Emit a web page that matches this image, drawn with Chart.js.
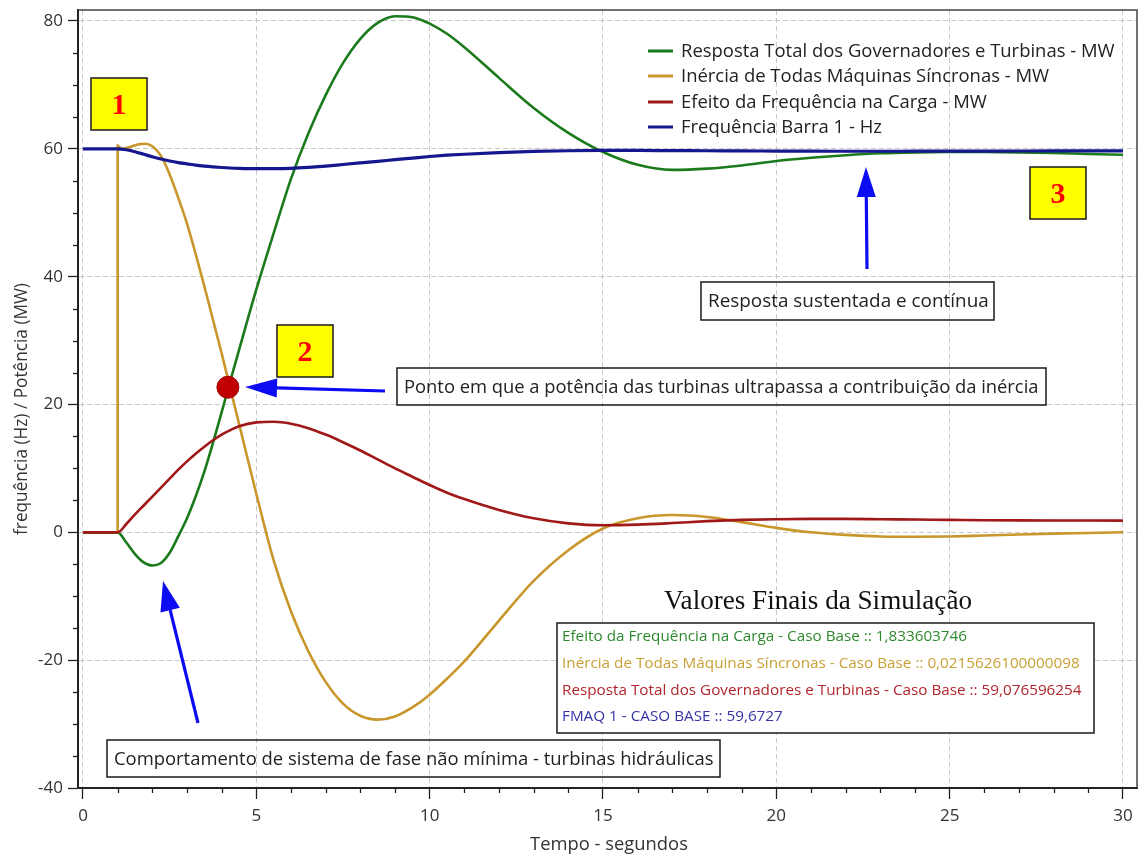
<!DOCTYPE html>
<html><head><meta charset="utf-8">
<script src="https://cdn.jsdelivr.net/npm/chart.js@4.4.0/dist/chart.umd.min.js"></script>
<style>html,body{margin:0;padding:0;background:#fff;}canvas{display:block;}</style>
</head><body>
<canvas id="c" width="1141" height="856"></canvas>
<script>
// ---- data ----
const tempo = [0,1,1.25,1.5,1.75,2,2.25,2.5,2.75,3,3.25,3.5,3.75,4,4.25,4.5,5,5.5,6,6.5,7,7.5,8,8.5,9,9.5,10,10.5,11,12,13,14,15,16,17,18,19,20,21,22,23,24,25,26,27,28,29,30];
const governadores = [0,0,-1.6,-3.4,-4.7,-5.2,-4.8,-3.2,-0.6,2.2,5.6,9.5,14,18.8,23.7,28.5,38,46.8,55.3,62.4,68.4,73.4,77.2,79.7,80.75,80.6,79.6,78.0,75.9,71.1,66.4,62.5,59.5,57.5,56.7,56.9,57.4,58.1,58.6,59.0,59.3,59.45,59.5,59.5,59.45,59.35,59.2,59.08];
const cargaFreq = [0,0,1.3,2.8,4.2,5.6,7.0,8.4,9.8,11.1,12.3,13.4,14.4,15.3,16.0,16.6,17.2,17.3,17.0,16.3,15.3,14.1,12.8,11.4,10.0,8.7,7.4,6.2,5.2,3.5,2.2,1.4,1.1,1.2,1.45,1.75,1.95,2.05,2.1,2.1,2.05,2.0,1.95,1.9,1.87,1.85,1.84,1.83];
const frequencia = [60,60,59.85,59.55,59.15,58.75,58.4,58.1,57.85,57.65,57.45,57.3,57.18,57.08,57.0,56.95,56.9,56.9,56.95,57.1,57.3,57.55,57.8,58.05,58.3,58.55,58.8,59.0,59.15,59.4,59.6,59.7,59.75,59.75,59.72,59.7,59.67,59.65,59.63,59.62,59.62,59.63,59.64,59.65,59.66,59.67,59.67,59.67];
const tempoInercia = [0,1,1,1.1,1.3,1.6,1.8,2,2.25,2.5,2.75,3,3.5,4,4.5,5,5.5,6,6.5,7,7.5,8,8.5,9,9.5,10,10.5,11,12,13,14,15,16,17,18,19,20,21,22,23,24,25,26,27,28,29,30];
const inercia = [0,0,60.5,60.0,60.2,60.7,60.8,60.4,58.9,56.0,52.3,48.3,38.5,28.0,17.0,6.0,-4.4,-12.4,-18.6,-23.4,-26.8,-28.7,-29.3,-28.8,-27.4,-25.4,-22.9,-20.2,-13.8,-7.6,-2.8,0.6,2.2,2.7,2.4,1.6,0.7,0.0,-0.4,-0.65,-0.7,-0.65,-0.5,-0.35,-0.2,-0.1,0.02];
const cruzamentoT = [4.18];
const cruzamentoV = [22.7];
const ticksX = [0,5,10,15,20,25,30];
const ticksY = [-40,-20,0,20,40,60,80];
const nomes = ['Resposta Total dos Governadores e Turbinas - MW','Inércia de Todas Máquinas Síncronas - MW','Efeito da Frequência na Carga - MW','Frequência Barra 1 - Hz'];
const cores = ['#1b7a1b','#c8962a','#a01818','#16168f'];
const valoresFinais = ['Efeito da Frequência na Carga - Caso Base :: 1,833603746','Inércia de Todas Máquinas Síncronas - Caso Base :: 0,0215626100000098','Resposta Total dos Governadores e Turbinas - Caso Base :: 59,076596254','FMAQ 1 - CASO BASE :: 59,6727'];
const coresValores = ['#2f8a2f','#c9a034','#b0262c','#3535a8'];

const SANS = '"Open Sans", "Noto Sans", sans-serif';
const SERIF = '"Liberation Serif", "DejaVu Serif", serif';

function fitSize(ctx, text, width, family, weight){
  ctx.font = (weight||'') + ' 100px ' + family;
  return 100*width/ctx.measureText(text).width;
}
function box(ctx,x1,y1,x2,y2,fill){
  if(fill){ctx.fillStyle=fill;ctx.fillRect(x1,y1,x2-x1,y2-y1);}
  ctx.strokeStyle='#1a1a1a';ctx.lineWidth=1.5;ctx.setLineDash([]);
  ctx.strokeRect(x1,y1,x2-x1,y2-y1);
}
function arrow(ctx,x1,y1,x2,y2,hl,hw){
  const a=Math.atan2(y2-y1,x2-x1);
  const bx=x2-hl*Math.cos(a), by=y2-hl*Math.sin(a);
  ctx.strokeStyle='#0c0cf2';ctx.fillStyle='#0c0cf2';ctx.lineWidth=3.2;ctx.setLineDash([]);
  ctx.beginPath();ctx.moveTo(x1,y1);ctx.lineTo(bx,by);ctx.stroke();
  ctx.beginPath();ctx.moveTo(x2,y2);
  ctx.lineTo(bx+hw/2*Math.sin(a),by-hw/2*Math.cos(a));
  ctx.lineTo(bx-hw/2*Math.sin(a),by+hw/2*Math.cos(a));
  ctx.closePath();ctx.fill();
}
function textBox(ctx,text,x1,y1,x2,y2,tw){
  box(ctx,x1,y1,x2,y2,null);
  const s=fitSize(ctx,text,tw,SANS);
  ctx.font=s+'px '+SANS;ctx.fillStyle='#222';ctx.textAlign='left';ctx.textBaseline='middle';
  ctx.fillText(text,x1+7,(y1+y2)/2+1);
}
function numBox(ctx,n,x1,y1,x2,y2){
  box(ctx,x1,y1,x2,y2,'#ffff00');
  ctx.font='bold 30px '+SERIF;ctx.fillStyle='#ff0000';ctx.textAlign='center';ctx.textBaseline='middle';
  ctx.fillText(n,(x1+x2)/2,(y1+y2)/2+2);
}

const overlay = {
  id:'overlay',
  afterDraw(chart){
    const ctx=chart.ctx, ca=chart.chartArea, sx=chart.scales.x, sy=chart.scales.y;
    ctx.save();
    ctx.strokeStyle='#444';ctx.lineWidth=1.5;ctx.setLineDash([]);
    ctx.beginPath();ctx.moveTo(ca.left,ca.top);ctx.lineTo(ca.right,ca.top);ctx.lineTo(ca.right,ca.bottom);ctx.stroke();
    ctx.strokeStyle='#222';ctx.lineWidth=1.3;
    for(let v=Math.ceil(sx.min);v<=sx.max;v++){ if(ticksX.includes(v)) continue;
      const p=Math.round(sx.getPixelForValue(v))+0.5; ctx.beginPath();ctx.moveTo(p,ca.bottom);ctx.lineTo(p,ca.bottom+5);ctx.stroke();}
    for(let v=-40;v<=sy.max;v+=5){ if(ticksY.includes(v)) continue;
      const p=Math.round(sy.getPixelForValue(v))+0.5; ctx.beginPath();ctx.moveTo(ca.left,p);ctx.lineTo(ca.left-5,p);ctx.stroke();}
    ctx.fillStyle='#333';ctx.textAlign='center';ctx.textBaseline='middle';ctx.font='17px '+SANS;
    ticksX.forEach(v=>ctx.fillText(String(v),sx.getPixelForValue(v),ca.bottom+28));
    let s=fitSize(ctx,'Tempo - segundos',158,SANS);
    ctx.font=s+'px '+SANS;ctx.fillText('Tempo - segundos',609,845);
    const yt='frequência (Hz) / Potência (MW)';
    s=fitSize(ctx,yt,252,SANS);
    ctx.translate(22,409);ctx.rotate(-Math.PI/2);ctx.font=s+'px '+SANS;ctx.fillText(yt,0,0);
    ctx.setTransform(1,0,0,1,0,0);
    s=fitSize(ctx,nomes[0],434,SANS);
    const rowsY=[51,76,102,127];
    nomes.forEach((n,i)=>{
      ctx.strokeStyle=cores[i];ctx.lineWidth=3;ctx.beginPath();ctx.moveTo(648,rowsY[i]);ctx.lineTo(673,rowsY[i]);ctx.stroke();
      ctx.fillStyle='#222';ctx.font=s+'px '+SANS;ctx.textAlign='left';ctx.textBaseline='middle';ctx.fillText(n,681,rowsY[i]+1);
    });
    numBox(ctx,'1',91,78,147,130);
    numBox(ctx,'2',277,325,333,377);
    numBox(ctx,'3',1030,167,1086,219);
    textBox(ctx,'Resposta sustentada e contínua',701,282,994,320,281);
    textBox(ctx,'Ponto em que a potência das turbinas ultrapassa a contribuição da inércia',397,368,1046,405,635);
    textBox(ctx,'Comportamento de sistema de fase não mínima - turbinas hidráulicas',107,740,720,777,600);
    arrow(ctx,198,723,163,581,30,20);
    arrow(ctx,385,391,245,387,32,19);
    arrow(ctx,867,269,866,167,30,19);
    ctx.fillStyle='#111';ctx.textAlign='center';ctx.textBaseline='middle';
    s=fitSize(ctx,'Valores Finais da Simulação',308,SERIF);
    ctx.font=s+'px '+SERIF;ctx.fillText('Valores Finais da Simulação',818,602);
    box(ctx,557,623,1094,733,'#ffffff');
    s=fitSize(ctx,valoresFinais[2],520,SANS);
    const vy=[637,664,691,717];
    valoresFinais.forEach((t,i)=>{ctx.fillStyle=coresValores[i];ctx.font=s+'px '+SANS;ctx.textAlign='left';ctx.fillText(t,562,vy[i]);});
    ctx.restore();
  }
};

const pts=(xs,ys)=>xs.map((t,i)=>({x:t,y:ys[i]}));
const base={pointRadius:0,fill:false,cubicInterpolationMode:'monotone'};
new Chart(document.getElementById('c'),{
  type:'line',
  data:{datasets:[
    Object.assign({label:nomes[0],data:pts(tempo,governadores),borderColor:cores[0],borderWidth:2.6,order:2},base),
    Object.assign({label:nomes[1],data:pts(tempoInercia,inercia),borderColor:cores[1],borderWidth:2.6,order:3},base),
    Object.assign({label:nomes[2],data:pts(tempo,cargaFreq),borderColor:cores[2],borderWidth:2.6,order:1},base),
    Object.assign({label:nomes[3],data:pts(tempo,frequencia),borderColor:cores[3],borderWidth:3.2,order:0},base),
    {label:'cruzamento',data:pts(cruzamentoT,cruzamentoV),showLine:false,pointRadius:11,pointBackgroundColor:'#c00000',pointBorderColor:'#a00000',pointBorderWidth:1,order:-1}
  ]},
  options:{
    responsive:false,animation:false,devicePixelRatio:1,
    layout:{autoPadding:false,padding:{top:10,right:4,left:0,bottom:0}},
    plugins:{legend:{display:false},tooltip:{enabled:false}},
    scales:{
      x:{type:'linear',min:-0.1442,max:30.404,
        afterBuildTicks:s=>{s.ticks=ticksX.map(v=>({value:v}));},
        afterFit:s=>{s.height=68;s.paddingLeft=0;s.paddingRight=0;},
        grid:{color:'#c8c8c8',lineWidth:1,tickLength:11,tickColor:'#222',tickWidth:1.3},
        border:{display:true,color:'#222',width:2,dash:[5,3]},
        ticks:{display:false}},
      y:{type:'linear',min:-40,max:81.72,
        afterBuildTicks:s=>{s.ticks=ticksY.map(v=>({value:v}));},
        afterFit:s=>{s.width=78;s.paddingTop=0;s.paddingBottom=0;},
        grid:{color:'#c8c8c8',lineWidth:1,tickLength:10,tickColor:'#222',tickWidth:1.3},
        border:{display:true,color:'#222',width:2,dash:[5,3]},
        ticks:{color:'#333',font:{family:SANS,size:17},padding:5}}
    }
  },
  plugins:[overlay]
});
</script>
</body></html>
